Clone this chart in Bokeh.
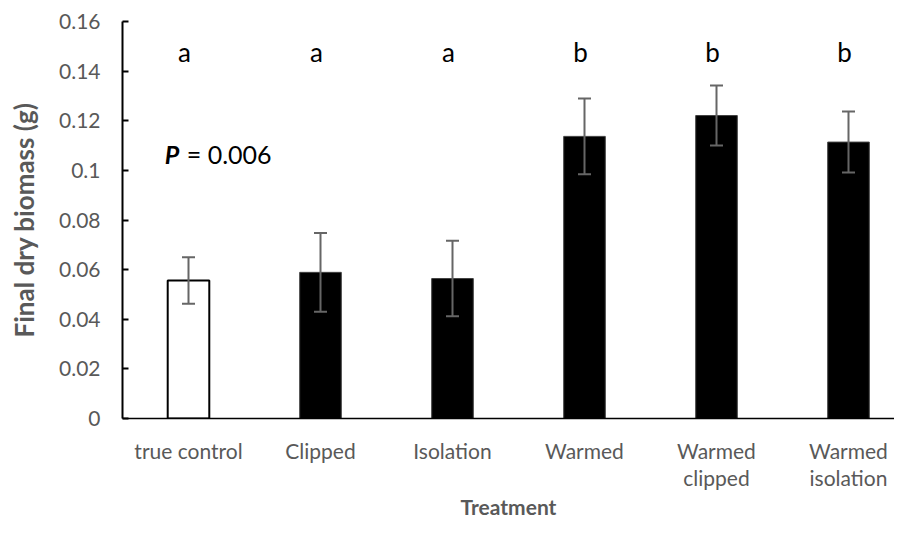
from bokeh.plotting import figure
from bokeh.models import ColumnDataSource, Range1d, FixedTicker, Whisker, TeeHead
from bokeh.core.properties import value
from bokeh.embed import file_html
from bokeh.resources import INLINE

categories = ["true control", "Clipped", "Isolation", "Warmed", "Warmed\nclipped", "Warmed\nisolation"]
means = [0.0556, 0.0589, 0.0564, 0.1137, 0.1221, 0.1114]
errors = [0.0094, 0.0159, 0.0152, 0.0153, 0.0121, 0.0123]
letters = ["a", "a", "a", "b", "b", "b"]
fills = ["white", "black", "black", "black", "black", "black"]
outlines = ["black", "#404040", "#404040", "#404040", "#404040", "#404040"]
outline_w = [2, 1, 1, 1, 1, 1]
y_ticks = [0, 0.02, 0.04, 0.06, 0.08, 0.1, 0.12, 0.14, 0.16]
y_tick_labels = ["0", "0.02", "0.04", "0.06", "0.08", "0.1", "0.12", "0.14", "0.16"]
letter_y = 0.1433
p_value_text = "= 0.006"
p_pos = (-0.18, 0.1023)

FONT = "Lato"
GRAY = "#595959"

idx = list(range(len(categories)))
src = ColumnDataSource(dict(
    x=idx, top=means,
    upper=[m + e for m, e in zip(means, errors)],
    lower=[m - e for m, e in zip(means, errors)],
    fill=fills, line=outlines, lw=outline_w, letter=letters,
    ly=[letter_y] * len(idx),
))

p = figure(width=894, height=541, output_backend="svg", toolbar_location=None,
           x_range=Range1d(-0.5, -0.5 + 772 / 132), y_range=Range1d(0, 0.16),
           min_border_left=122, min_border_right=0, min_border_top=21, min_border_bottom=123)
p.outline_line_color = None
p.xgrid.grid_line_color = None
p.ygrid.grid_line_color = None
p.background_fill_color = "white"
p.border_fill_color = "white"

p.vbar(x="x", top="top", width=0.315, bottom=0, source=src,
       fill_color="fill", line_color="line", line_width="lw")

w = Whisker(base="x", upper="upper", lower="lower", source=src, level="overlay",
            line_color="#666666", line_width=2,
            upper_head=TeeHead(size=13, line_color="#666666", line_width=2),
            lower_head=TeeHead(size=13, line_color="#666666", line_width=2))
p.add_layout(w)

p.text(x="x", y="ly", text="letter", source=src, text_align="center",
       text_baseline="alphabetic", text_font=value(FONT), text_font_size="26px",
       text_color="black", x_offset=-4, y_offset=-11)

p.text(x=[p_pos[0]], y=[p_pos[1]], text=["P"], text_align="left", text_baseline="alphabetic",
       text_font=value(FONT), text_font_size="25px", text_font_style="bold italic", text_color="black",
       y_offset=-11)
p.text(x=[p_pos[0]], y=[p_pos[1]], text=[p_value_text], text_align="left", text_baseline="alphabetic",
       text_font=value(FONT), text_font_size="25px", text_color="black", x_offset=22, y_offset=-11)

# y axis
ya = p.yaxis[0]
ya.ticker = FixedTicker(ticks=y_ticks)
ya.major_label_overrides = {t: l for t, l in zip(y_ticks, y_tick_labels)}
ya.major_tick_in = 6
ya.major_tick_out = 0
ya.minor_tick_in = 0
ya.minor_tick_out = 0
ya.major_tick_line_color = "black"
ya.major_tick_line_width = 2
ya.axis_line_color = "black"
ya.axis_line_width = 2
ya.major_label_standoff = 22
ya.major_label_text_font = FONT
ya.major_label_text_font_size = "21px"
ya.major_label_text_color = GRAY
ya.axis_label = "Final dry biomass (g)"
ya.axis_label_text_font = FONT
ya.axis_label_text_font_size = "26px"
ya.axis_label_text_font_style = "bold"
ya.axis_label_text_color = GRAY
ya.axis_label_standoff = 16

# x axis
xa = p.xaxis[0]
xa.ticker = FixedTicker(ticks=idx)
xa.major_label_overrides = {i: c for i, c in zip(idx, categories)}
xa.major_tick_in = 0
xa.major_tick_out = 0
xa.minor_tick_in = 0
xa.minor_tick_out = 0
xa.axis_line_color = "black"
xa.axis_line_width = 1.5
xa.major_label_standoff = 19
xa.major_label_text_font = FONT
xa.major_label_text_font_size = "21px"
xa.major_label_text_color = GRAY
xa.major_label_text_line_height = 1.1
xa.axis_label = "Treatment"
xa.axis_label_text_font = FONT
xa.axis_label_text_font_size = "21px"
xa.axis_label_text_font_style = "bold"
xa.axis_label_text_color = GRAY
xa.axis_label_standoff = 1

open("out.html", "w").write(file_html(p, INLINE))
